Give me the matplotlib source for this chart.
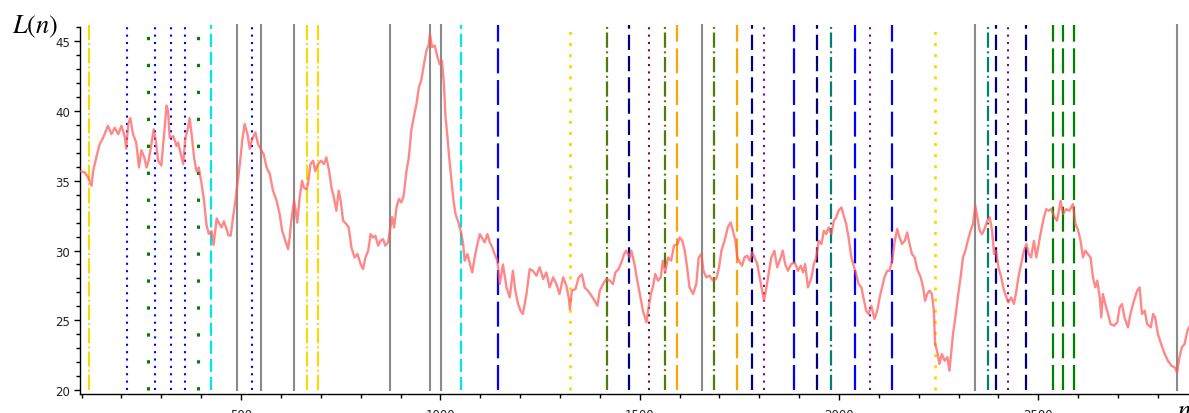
import numpy as np
import matplotlib
matplotlib.use("Agg")
import matplotlib.pyplot as plt
from matplotlib.ticker import MultipleLocator

plt.rcParams['mathtext.fontset'] = 'stix'
plt.rcParams['lines.scale_dashes'] = False

# L(n) curve
n_vals = [95, 108, 116, 125, 129, 137, 145, 154, 166, 175, 183, 192, 200, 208, 212, 217, 222, 229, 237, 244,
          250, 257, 263, 268, 275, 281, 286, 292, 300, 307, 313, 317, 321, 330, 338, 342, 350, 355, 360, 367,
          371, 377, 382, 388, 394, 401, 407, 413, 419, 426, 431, 439, 444, 451, 457, 463, 468, 474, 480, 485,
          491, 497, 503, 509, 516, 522, 528, 536, 543, 549, 557, 564, 572, 580, 589, 597, 603, 610, 618, 622,
          626, 633, 637, 641, 647, 653, 658, 664, 668, 674, 681, 686, 693, 701, 708, 714, 721, 727, 733, 739,
          745, 750, 756, 764, 770, 777, 785, 792, 800, 806, 812, 819, 825, 831, 837, 844, 850, 856, 862, 869,
          873, 879, 884, 890, 896, 902, 908, 915, 921, 927, 934, 940, 946, 952, 959, 965, 971, 974, 979, 986,
          992, 998, 1004, 1009, 1013, 1018, 1022, 1028, 1033, 1038, 1044, 1051, 1057, 1061, 1068, 1074, 1080,
          1086, 1093, 1099, 1104, 1111, 1118, 1124, 1130, 1136, 1143, 1149, 1157, 1166, 1174, 1182, 1188, 1195,
          1201, 1207, 1216, 1224, 1232, 1241, 1249, 1258, 1266, 1274, 1283, 1291, 1299, 1308, 1316, 1322, 1325,
          1330, 1339, 1347, 1355, 1362, 1370, 1379, 1387, 1394, 1400, 1408, 1416, 1425, 1433, 1439, 1447, 1454,
          1461, 1466, 1475, 1479, 1487, 1494, 1502, 1508, 1517, 1521, 1528, 1533, 1539, 1546, 1553, 1558, 1564,
          1571, 1579, 1586, 1595, 1600, 1607, 1613, 1619, 1625, 1634, 1642, 1648, 1655, 1660, 1667, 1675, 1684,
          1692, 1699, 1705, 1713, 1721, 1728, 1734, 1740, 1745, 1751, 1757, 1763, 1770, 1776, 1782, 1788, 1795,
          1801, 1807, 1812, 1818, 1824, 1830, 1838, 1845, 1854, 1859, 1865, 1872, 1880, 1889, 1897, 1904, 1910,
          1915, 1922, 1931, 1937, 1943, 1949, 1956, 1962, 1968, 1974, 1981, 1987, 1993, 1999, 2006, 2012, 2018,
          2024, 2031, 2038, 2043, 2049, 2056, 2063, 2068, 2074, 2081, 2089, 2096, 2102, 2108, 2114, 2121, 2127,
          2133, 2140, 2146, 2152, 2158, 2165, 2171, 2177, 2183, 2190, 2196, 2205, 2211, 2216, 2221, 2227, 2233,
          2238, 2241, 2246, 2252, 2258, 2265, 2272, 2277, 2282, 2286, 2292, 2298, 2305, 2311, 2317, 2323, 2330,
          2336, 2342, 2347, 2353, 2359, 2365, 2372, 2378, 2384, 2389, 2394, 2400, 2407, 2414, 2420, 2425, 2432,
          2439, 2445, 2450, 2457, 2464, 2470, 2476, 2482, 2489, 2495, 2501, 2507, 2514, 2520, 2526, 2532, 2541,
          2547, 2556, 2562, 2570, 2578, 2587, 2593, 2599, 2606, 2612, 2618, 2624, 2631, 2637, 2643, 2648, 2654,
          2658, 2662, 2668, 2675, 2681, 2690, 2698, 2704, 2710, 2716, 2725, 2731, 2740, 2748, 2754, 2760, 2767,
          2773, 2782, 2788, 2793, 2800, 2808, 2817, 2825, 2834, 2842, 2848, 2854, 2860, 2867, 2874, 2880]
L_vals = [35.7, 35.6, 35.25, 34.65, 35.7, 36.7, 37.6, 38.1, 38.95, 38.35, 38.8, 38.35, 38.95, 38.2, 37.3, 39.1,
          39.5, 38.35, 37.75, 35.96, 37.2, 36.7, 35.96, 36.44, 37.6, 38.7, 37.9, 36.44, 36.1, 38.35, 40.4, 40.0,
          38.1, 38.2, 37.5, 37.75, 36.8, 36.2, 38.0, 38.8, 39.5, 38.1, 36.7, 35.7, 35.96, 34.8, 33.6, 31.9, 31.2,
          31.4, 30.4, 32.3, 32.0, 31.66, 32.1, 31.6, 31.1, 31.07, 32.4, 33.4, 34.77, 36.2, 37.9, 39.07, 38.35,
          37.3, 38.0, 38.47, 37.6, 37.3, 36.9, 35.96, 35.5, 34.3, 33.6, 32.6, 31.42, 30.8, 30.1, 30.94, 32.14,
          33.57, 32.85, 32.0, 33.8, 35.0, 34.5, 34.4, 34.77, 36.2, 36.44, 35.7, 36.2, 36.44, 36.2, 36.68, 35.7,
          34.5, 33.8, 32.85, 34.3, 33.57, 32.14, 31.9, 31.66, 30.2, 29.5, 29.75, 29.03, 28.67, 29.5, 29.99, 31.18,
          30.94, 31.06, 30.35, 30.7, 30.82, 30.35, 30.6, 31.4, 32.4, 31.66, 33.1, 33.7, 33.45, 33.93, 35.7, 36.7,
          38.6, 39.67, 40.5, 41.7, 42.2, 43.4, 44.33, 44.8, 45.5, 44.6, 44.7, 43.97, 43.37, 43.6, 41.9, 39.55,
          38.1, 36.7, 35.0, 33.57, 32.6, 32.14, 31.4, 30.5, 29.27, 29.75, 29.03, 28.43, 29.5, 30.47, 31.18, 30.94,
          30.59, 31.18, 30.59, 30.23, 29.75, 29.27, 27.6, 29.0, 27.36, 26.64, 28.55, 27.12, 26.17, 25.69, 25.45,
          26.88, 28.67, 28.55, 28.2, 28.8, 27.96, 28.43, 27.36, 28.08, 27.6, 26.88, 28.08, 27.48, 26.64, 25.8,
          27.12, 27.24, 28.08, 28.3, 27.36, 27.12, 26.76, 26.4, 26.04, 27.12, 27.6, 27.96, 27.84, 27.6, 28.43,
          28.67, 29.15, 29.75, 29.99, 29.5, 29.99, 29.03, 27.84, 26.64, 25.69, 24.85, 25.69, 26.88, 27.36, 28.32,
          27.84, 28.08, 29.27, 28.43, 29.5, 29.27, 30.35, 30.47, 30.94, 30.7, 29.99, 28.79, 27.36, 26.88, 27.6,
          29.5, 29.75, 28.55, 28.08, 28.2, 27.84, 27.96, 28.79, 29.99, 30.7, 31.66, 32.02, 31.42, 30.7, 29.51,
          29.15, 28.91, 29.51, 29.63, 29.27, 29.87, 29.51, 29.03, 28.08, 27.12, 26.4, 27.36, 28.43, 29.5, 29.99,
          28.79, 29.51, 29.99, 29.03, 28.55, 29.03, 29.15, 28.55, 28.91, 28.43, 29.03, 27.36, 28.08, 29.03, 29.51,
          30.7, 30.47, 31.42, 31.18, 31.66, 31.18, 32.14, 32.38, 32.86, 33.09, 32.5, 31.9, 30.94, 29.51, 28.79,
          28.32, 27.6, 27.36, 26.4, 25.69, 25.45, 26.04, 25.09, 25.69, 26.64, 27.36, 28.08, 28.55, 28.55, 29.27,
          30.7, 31.54, 30.94, 30.47, 30.7, 31.3, 30.47, 29.75, 29.51, 28.67, 28.08, 27.36, 26.4, 26.88, 27.12,
          26.88, 25.69, 23.3, 22.82, 21.86, 22.58, 22.1, 22.34, 21.38, 22.82, 24.01, 25.21, 26.64, 28.08, 29.51,
          29.99, 30.7, 31.42, 31.9, 33.21, 32.38, 31.42, 31.18, 31.54, 32.14, 32.38, 31.42, 29.75, 29.99, 28.79,
          28.08, 27.12, 26.64, 26.28, 26.64, 26.16, 27.12, 28.08, 29.03, 29.99, 30.47, 29.75, 29.51, 30.7, 29.51,
          30.47, 31.42, 32.38, 32.97, 32.86, 32.97, 32.38, 32.14, 33.57, 32.62, 32.97, 32.86, 33.33, 31.9, 31.54,
          30.7, 29.51, 29.99, 29.75, 29.51, 28.08, 27.36, 27.84, 26.64, 25.21, 26.88, 26.16, 25.45, 24.73, 24.61,
          24.85, 25.92, 26.16, 25.21, 24.49, 25.45, 26.4, 27.12, 27.36, 25.45, 25.69, 24.73, 24.49, 25.45, 25.21,
          24.01, 23.3, 22.58, 22.1, 21.74, 21.62, 21.26, 22.34, 23.06, 23.3, 24.25, 24.6]

# vertical markers, grouped by colour / dash style
gray_solid = [491, 549, 633, 874, 973, 1002, 1656, 2342, 2849]
gold_dashdot = [119, 665, 692]
gold_dotted = [1326, 2240]
blue_dotted = [214, 284, 324, 360, 528]
green_dots = [266, 392]
cyan_dashed = [424, 1052]
blue_longdash = [1145, 1886, 2040, 2133]
navy_dashed = [1473, 1782, 1945, 2394, 2469]
maroon_dotted = [1523]
purple_dotted = [1812, 2079, 2424]
olive_dashdot = [1417, 1563, 1687]
orange_dashed = [1594, 1743]
teal_dashdot = [1981, 2374]
green_dashed = [2537, 2562, 2590]

styles = [
    (gray_solid, '#8a8a8a', '-', 1.5),
    (gold_dashdot, '#ffd700', (0, (11, 2.2, 1.4, 2.2)), 1.5),
    (gold_dotted, '#ffd700', (0, (2.2, 5.8)), 2.0),
    (blue_dotted, '#0000ff', (0, (1.5, 3.8)), 1.5),
    (green_dots, '#008000', (0, (2.4, 17)), 2.2),
    (cyan_dashed, '#00e5ee', (0, (9.5, 3.5)), 1.6),
    (blue_longdash, '#0000ff', (0, (18, 4.8)), 1.6),
    (navy_dashed, '#000080', (0, (11, 4.3)), 1.6),
    (maroon_dotted, '#800040', (0, (1.5, 3.8)), 1.5),
    (purple_dotted, '#800080', (0, (1.5, 3.8)), 1.5),
    (olive_dashdot, '#4e7d0a', (0, (11, 2.6, 1.4, 2.6)), 1.6),
    (orange_dashed, '#ffa500', (0, (18, 4.8)), 1.6),
    (teal_dashdot, '#008070', (0, (11, 2.6, 1.4, 2.6)), 1.6),
    (green_dashed, '#008000', (0, (18, 4.8)), 1.6),
]

fig = plt.figure(figsize=(11.89, 4.14), dpi=100)
ax = fig.add_axes([80 / 1189, 19 / 414, 1 - 80 / 1189, 370 / 414])

for xs, col, ls, lw in styles:
    for x in xs:
        ax.plot([x, x], [20, 46.2], color=col, linestyle=ls, linewidth=lw, zorder=2)

ax.plot(n_vals, L_vals, color='#ff5a5a', alpha=0.72, linewidth=1.7, zorder=3)

ax.set_xlim(96, 2878)
ax.set_ylim(19.71, 46.25)
ax.spines['top'].set_visible(False)
ax.spines['right'].set_visible(False)
ax.spines['left'].set_bounds(19.71, 46.05)
for s in ('left', 'bottom'):
    ax.spines[s].set_linewidth(1.0)

ax.xaxis.set_major_locator(MultipleLocator(500))
ax.xaxis.set_minor_locator(MultipleLocator(100))
ax.yaxis.set_major_locator(MultipleLocator(5))
ax.yaxis.set_minor_locator(MultipleLocator(1))
ax.tick_params(which='major', direction='out', length=4, width=1, labelsize=8.5,
               labelcolor='#222222', pad=3)
ax.tick_params(which='minor', direction='out', length=3, width=1)
ax.tick_params(axis='x', which='major', pad=6)

fig.text(12 / 1189, (414 - 33) / 414, r'$L(n)$', fontsize=19, ha='left', va='baseline')
fig.text(1177 / 1189, (414 - 418) / 414, r'$n$', fontsize=19, ha='left', va='baseline')

fig.savefig('out.png', dpi=100)
